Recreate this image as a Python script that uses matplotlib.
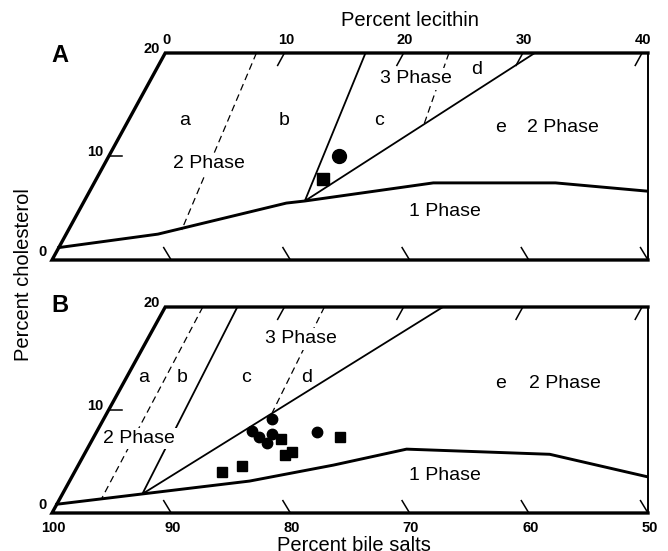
import numpy as np
import matplotlib.pyplot as plt

plt.rcParams['font.family'] = ['Liberation Sans', 'DejaVu Sans']

K = 0.475  # sideways shift of the cholesterol axis (skewed triangle)

# tick values
lec_ticks = [0, 10, 20, 30, 40]
chol_ticks = [0, 10, 20]
bile_ticks = [100, 90, 80, 70, 60, 50]

# panel A boundaries, (lecithin %, cholesterol %)
a_one_lec = [0, 7.7, 17.05, 18.5, 28.45, 38.7, 46.8]
a_one_chol = [1.2, 2.5, 5.5, 5.7, 7.45, 7.45, 6.65]
a_tri_lec = [16.8, 18.5, 31.0]
a_tri_chol = [20, 5.7, 20]
a_dash1_lec = [7.65, 9.5]
a_dash1_chol = [20, 2.9]
a_dash2_lec = [23.8, 25.0]
a_dash2_chol = [20, 13.0]
a_circle_lec = [19.3]
a_circle_chol = [10.05]
a_square_lec = [19.0]
a_square_chol = [7.8]

# panel B boundaries
b_one_lec = [0, 6.7, 15.1, 21.4, 26.8, 39.05, 48.35]
b_one_chol = [0.85, 1.85, 3.1, 4.65, 6.2, 5.7, 3.5]
b_tri_lec = [6.05, 6.7, 23.3]
b_tri_chol = [20, 1.85, 20]
b_dash1_lec = [3.15, 3.5]
b_dash1_chol = [20, 1.45]
b_dash2_lec = [13.35, 13.85]
b_dash2_chol = [20, 9.75]
b_circle_lec = [14.1, 12.95, 13.85, 14.8, 14.8, 18.5]
b_circle_chol = [9.1, 8.0, 7.35, 7.65, 6.75, 7.9]
b_square_lec = [15.85, 16.85, 17.35, 13.8, 12.35, 20.7]
b_square_chol = [7.15, 5.6, 5.9, 4.55, 3.95, 7.35]


def tern(lec, chol):
    lec = np.asarray(lec, float)
    chol = np.asarray(chol, float)
    return lec + K * chol, chol


def frame(ax, top_labels):
    ax.set_xlim(0, 50)
    ax.set_ylim(0, 20)
    ax.axis('off')
    # outline
    x, y = tern([50, 0, 0, 50 - 20 * K], [0, 0, 20, 20])
    ax.plot(x, y, color='k', lw=2.4, solid_joinstyle='miter', clip_on=False)
    x, y = tern([50, 50 - 20 * K], [0, 20])
    ax.plot(x, y, color='k', lw=1.4, clip_on=False)
    # ticks
    for lec in lec_ticks[1:] + [50]:
        x, y = tern([lec, lec - 1.2], [0, 1.2])
        ax.plot(x, y, color='k', lw=1.1)
    for lec in lec_ticks[1:]:
        x, y = tern([lec, lec], [20, 18.8])
        ax.plot(x, y, color='k', lw=1.1)
    x, y = tern([0, 1.1], [10, 10])
    ax.plot(x, y, color='k', lw=1.1)
    for c in chol_ticks:
        x, y = tern(0, c)
        ax.annotate(str(c), (x, y), xytext=(-4, 3 if c else 6), textcoords='offset points',
                    ha='right', va='center', fontsize=10.5, fontweight='bold')
    if top_labels:
        for lec in lec_ticks:
            x, y = tern(lec, 20)
            ax.annotate(str(lec), (x, y), xytext=(1, 4), textcoords='offset points',
                        ha='center', va='bottom', fontsize=10.5, fontweight='bold')


def lines(ax, one, tri, dashes):
    x, y = tern(*one)
    ax.plot(x, y, color='k', lw=2.1, zorder=3)
    x, y = tern(*tri)
    ax.plot(x, y, color='k', lw=1.3, zorder=2)
    for d in dashes:
        x, y = tern(*d)
        ax.plot(x, y, color='k', lw=0.9, dashes=(5.5, 3.5), zorder=2)


def label(ax, x, y, s, box=False):
    kw = dict(ha='center', va='center', fontsize=14, zorder=5)
    if box:
        kw['bbox'] = dict(facecolor='white', edgecolor='none', pad=1.5)
    ax.text(x, y, s, **kw)


fig = plt.figure(figsize=(6.68, 5.51), dpi=100)
W, H = 668, 551
axA = fig.add_axes([52 / W, (H - 260) / H, 596 / W, 207 / H])
axB = fig.add_axes([52 / W, (H - 513) / H, 596 / W, 206 / H])

# panel A
frame(axA, True)
lines(axA, (a_one_lec, a_one_chol), (a_tri_lec, a_tri_chol),
      [(a_dash1_lec, a_dash1_chol), (a_dash2_lec, a_dash2_chol)])
x, y = tern(a_circle_lec, a_circle_chol)
axA.plot(x, y, 'o', color='k', ms=10, zorder=6)
x, y = tern(a_square_lec, a_square_chol)
axA.plot(x, y, 's', color='k', ms=9, zorder=6)
label(axA, 11.1, 13.5, 'a')
label(axA, 19.5, 13.5, 'b')
label(axA, 13.2, 9.3, '2 Phase', box=True)
label(axA, 27.45, 13.5, 'c')
label(axA, 30.5, 17.5, '3 Phase', box=True)
label(axA, 35.6, 18.45, 'd')
label(axA, 37.6, 12.85, 'e')
label(axA, 42.9, 12.85, '2 Phase')
label(axA, 33.0, 4.65, '1 Phase')

# panel B
frame(axB, False)
lines(axB, (b_one_lec, b_one_chol), (b_tri_lec, b_tri_chol),
      [(b_dash1_lec, b_dash1_chol), (b_dash2_lec, b_dash2_chol)])
x, y = tern(b_circle_lec, b_circle_chol)
axB.plot(x, y, 'o', color='k', ms=7.5, ls='none', zorder=6)
x, y = tern(b_square_lec, b_square_chol)
axB.plot(x, y, 's', color='k', ms=6.8, ls='none', zorder=6)
label(axB, 7.7, 13.15, 'a')
label(axB, 10.95, 13.15, 'b')
label(axB, 16.25, 13.15, 'c')
label(axB, 21.4, 13.15, 'd')
label(axB, 20.85, 16.9, '3 Phase', box=True)
label(axB, 7.3, 7.25, '2 Phase', box=True)
label(axB, 37.6, 12.55, 'e')
label(axB, 43.0, 12.55, '2 Phase')
label(axB, 33.0, 3.6, '1 Phase')
for b in bile_ticks:
    x, y = tern(100 - b, 0)
    axB.annotate(str(b), (x, y), xytext=(1, -5.5), textcoords='offset points',
                 ha='center', va='top', fontsize=10.5, fontweight='bold')

fig.text(60 / W, 1 - 55 / H, 'A', fontsize=17, fontweight='bold', ha='center', va='center')
fig.text(60 / W, 1 - 306 / H, 'B', fontsize=17, fontweight='bold', ha='center', va='center')
fig.text(410 / W, 1 - 20 / H, 'Percent lecithin', fontsize=14.5, ha='center', va='center')
fig.text(354 / W, 1 - 536 / H, 'Percent bile salts', fontsize=14.5, ha='center', va='top')
fig.text(24 / W, 1 - 275 / H, 'Percent cholesterol', fontsize=14.5, rotation=90,
         ha='center', va='center')

fig.savefig('out.png', dpi=100)
